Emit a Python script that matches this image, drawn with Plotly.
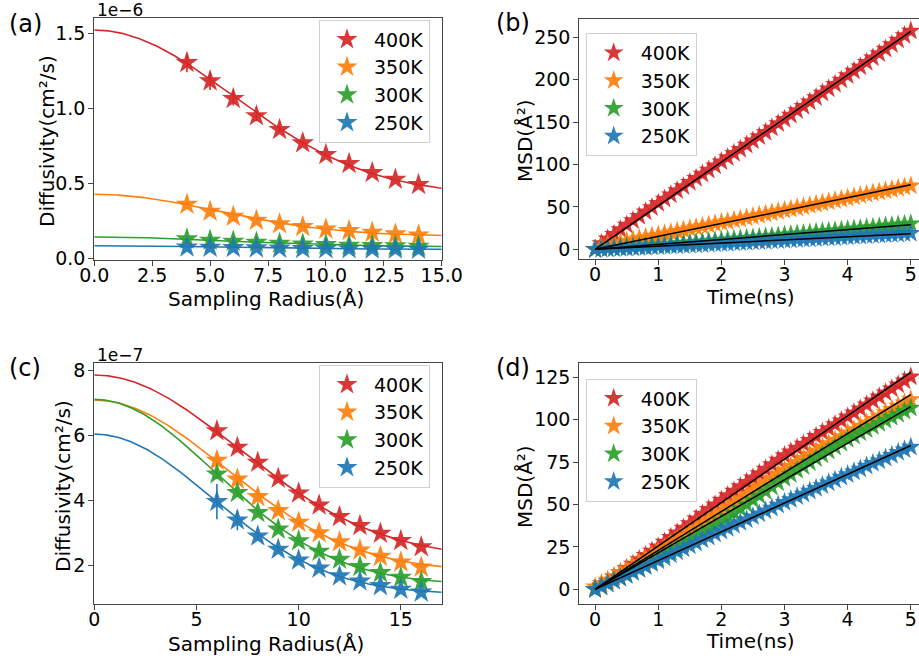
import numpy as np
import plotly.graph_objects as go

# ---------------- data ----------------
temps = ["400K", "350K", "300K", "250K"]
colors = ["#d62728", "#ff7f0e", "#2ca02c", "#1f77b4"]

# (a) diffusivity vs sampling radius, units of 1e-6 cm^2/s
radius_a = [4, 5, 6, 7, 8, 9, 10, 11, 12, 13, 14]
diff_a_400 = [1.302, 1.180, 1.062, 0.947, 0.856, 0.767, 0.689, 0.629, 0.569, 0.524, 0.489]
diff_a_350 = [0.358, 0.311, 0.278, 0.251, 0.227, 0.209, 0.193, 0.182, 0.171, 0.160, 0.153]
diff_a_300 = [0.127, 0.118, 0.111, 0.104, 0.098, 0.093, 0.089, 0.084, 0.082, 0.080, 0.078]
diff_a_250 = [0.073, 0.071, 0.069, 0.067, 0.065, 0.063, 0.062, 0.061, 0.060, 0.059, 0.058]
err_a_400 = [0.063, 0.060, 0.045, 0.035, 0.020, 0.012, 0.010, 0.008, 0.008, 0.006, 0.006]
err_a_350 = [0.012, 0.010, 0.008, 0.006, 0.005, 0.004, 0.004, 0.003, 0.003, 0.003, 0.003]
err_a_300 = [0.006, 0.005, 0.004, 0.003, 0.003, 0.002, 0.002, 0.002, 0.002, 0.002, 0.002]
err_a_250 = [0.004, 0.003, 0.003, 0.002, 0.002, 0.002, 0.002, 0.002, 0.002, 0.002, 0.002]
# Gaussian model D(r) = base + amp * exp(-(r/width)^2)
fit_a_400 = [0.420, 1.100, 8.40]
fit_a_350 = [0.145, 0.280, 7.50]
fit_a_300 = [0.075, 0.065, 8.00]
fit_a_250 = [0.058, 0.024, 8.00]

# (c) diffusivity vs sampling radius, units of 1e-7 cm^2/s
radius_c = [6, 7, 8, 9, 10, 11, 12, 13, 14, 15, 16]
diff_c_400 = [6.13, 5.62, 5.16, 4.67, 4.21, 3.84, 3.49, 3.21, 2.97, 2.75, 2.56]
diff_c_350 = [5.22, 4.64, 4.10, 3.67, 3.31, 2.99, 2.71, 2.46, 2.26, 2.09, 1.93]
diff_c_300 = [4.80, 4.23, 3.61, 3.10, 2.74, 2.42, 2.17, 1.95, 1.76, 1.62, 1.49]
diff_c_250 = [3.95, 3.38, 2.89, 2.48, 2.15, 1.90, 1.66, 1.50, 1.36, 1.25, 1.16]
err_c_400 = [0.10, 0.08, 0.06, 0.05, 0.04, 0.04, 0.03, 0.03, 0.03, 0.02, 0.02]
err_c_350 = [0.12, 0.09, 0.07, 0.05, 0.04, 0.04, 0.03, 0.03, 0.03, 0.02, 0.02]
err_c_300 = [0.15, 0.12, 0.08, 0.06, 0.05, 0.04, 0.03, 0.03, 0.03, 0.02, 0.02]
err_c_250 = [0.54, 0.31, 0.12, 0.08, 0.06, 0.05, 0.04, 0.03, 0.03, 0.03, 0.02]
fit_c_400 = [2.20, 5.65, 9.85]
fit_c_350 = [1.80, 5.28, 9.00]
fit_c_300 = [1.40, 5.70, 8.35]
fit_c_250 = [1.10, 4.93, 8.10]

# (b), (d) mean squared displacement vs time
time_ns = [round(0.1 * i, 1) for i in range(51)]
msd_b_400 = [0.0, 6.8, 12.5, 17.9, 23.4, 28.6, 33.9, 39.0, 44.2, 49.3,
             54.4, 59.4, 64.3, 69.3, 74.1, 79.0, 83.9, 88.8, 93.6, 98.5,
             103.4, 108.3, 113.2, 118.1, 123.0, 128.0, 133.1, 138.1, 143.2, 148.3,
             153.4, 158.5, 163.7, 168.8, 174.0, 179.1, 184.3, 189.4, 194.6, 199.8,
             205.0, 210.2, 215.4, 220.6, 225.8, 231.0, 236.3, 241.5, 246.8, 252.1,
             257.6]
msd_b_350 = [0.0, 2.9, 5.0, 6.8, 8.4, 9.9, 11.4, 12.8, 14.2, 15.6,
             17.0, 18.4, 19.9, 21.3, 22.8, 24.2, 25.7, 27.1, 28.6, 30.0,
             31.5, 32.9, 34.4, 35.8, 37.3, 38.7, 40.2, 41.6, 43.1, 44.5,
             46.0, 47.4, 48.9, 50.3, 51.8, 53.2, 54.7, 56.1, 57.6, 59.0,
             60.5, 61.9, 63.4, 64.8, 66.3, 67.7, 69.2, 70.6, 72.1, 73.5,
             75.0]
msd_b_300 = [0.0, 0.5, 1.0, 1.5, 2.0, 2.5, 3.0, 3.5, 4.0, 4.5,
             5.0, 5.6, 6.1, 6.7, 7.2, 7.8, 8.4, 8.9, 9.5, 10.1,
             10.7, 11.3, 11.9, 12.5, 13.1, 13.7, 14.3, 14.9, 15.5, 16.1,
             16.8, 17.4, 18.0, 18.7, 19.3, 20.0, 20.6, 21.3, 21.9, 22.6,
             23.3, 23.9, 24.6, 25.3, 26.0, 26.7, 27.4, 28.1, 28.8, 29.5,
             30.2]
msd_b_250 = [0.0, 0.3, 0.6, 0.9, 1.2, 1.5, 1.9, 2.2, 2.5, 2.9,
             3.2, 3.6, 3.9, 4.3, 4.6, 5.0, 5.4, 5.7, 6.1, 6.5,
             6.9, 7.2, 7.6, 8.0, 8.4, 8.8, 9.2, 9.6, 10.0, 10.4,
             10.8, 11.2, 11.6, 12.0, 12.4, 12.8, 13.2, 13.6, 14.0, 14.4,
             14.9, 15.3, 15.7, 16.1, 16.5, 16.9, 17.3, 17.7, 18.1, 18.5,
             18.9]
msd_d_400 = [0.0, 2.3, 4.8, 7.3, 9.9, 12.5, 15.0, 17.6, 20.1, 22.6,
             25.2, 27.9, 30.7, 33.4, 36.2, 38.9, 41.7, 44.4, 47.2, 49.9,
             52.7, 55.3, 58.0, 60.6, 63.2, 65.8, 68.4, 71.0, 73.6, 76.3,
             78.9, 81.2, 83.4, 85.7, 88.0, 90.3, 92.6, 94.9, 97.2, 99.5,
             101.8, 104.2, 106.5, 108.9, 111.2, 113.6, 116.0, 118.3, 120.7, 123.0,
             125.4]
msd_d_350 = [1.5, 3.6, 5.6, 7.6, 9.6, 11.7, 13.8, 15.9, 18.0, 20.1,
             22.3, 24.6, 26.9, 29.3, 31.7, 34.1, 36.5, 38.9, 41.3, 43.8,
             46.3, 48.7, 51.1, 53.6, 56.0, 58.4, 60.8, 63.2, 65.6, 68.0,
             70.4, 72.7, 75.0, 77.3, 79.5, 81.7, 83.9, 86.0, 88.1, 90.2,
             92.3, 94.3, 96.3, 98.3, 100.3, 102.3, 104.3, 106.2, 108.2, 110.1,
             112.0]
msd_d_300 = [0.0, 1.6, 3.2, 4.9, 6.6, 8.3, 10.2, 12.0, 14.0, 16.0,
             18.0, 20.1, 22.2, 24.3, 26.5, 28.7, 30.9, 33.1, 35.4, 37.7,
             40.0, 42.5, 45.0, 47.5, 50.1, 52.7, 55.2, 57.8, 60.3, 62.9,
             65.5, 67.8, 70.2, 72.5, 74.8, 77.1, 79.3, 81.6, 83.9, 86.2,
             88.5, 90.4, 92.3, 94.2, 96.1, 97.9, 99.7, 101.5, 103.3, 105.1,
             107.0]
msd_d_250 = [0.0, 1.6, 3.3, 5.0, 6.7, 8.4, 10.1, 11.8, 13.5, 15.2,
             16.9, 18.7, 20.4, 22.2, 23.9, 25.7, 27.4, 29.2, 30.9, 32.7,
             34.4, 36.1, 37.8, 39.5, 41.2, 42.9, 44.6, 46.3, 48.0, 49.7,
             51.4, 53.0, 54.7, 56.3, 58.0, 59.6, 61.2, 62.9, 64.5, 66.2,
             67.8, 69.4, 71.0, 72.7, 74.3, 75.9, 77.5, 79.1, 80.8, 82.4,
             84.0]

# ---------------- figure ----------------
W, H = 919, 662
FONT = "DejaVu Sans"
AX_COLOR = "#444444"

fig = go.Figure()


def px_x(p):
    return p / W


def px_y(p):
    return 1 - p / H


# panel boxes in pixels: (left, right, top, bottom)
boxes = {
    "a": (94.3, 441.7, 18.0, 260.0),
    "b": (579.3, 919.0, 19.0, 259.3),
    "c": (94.3, 441.7, 363.3, 604.3),
    "d": (579.3, 919.0, 363.3, 604.3),
}
axis_ids = {"a": ("x", "y"), "b": ("x2", "y2"), "c": ("x3", "y3"), "d": ("x4", "y4")}
legend_ids = {"a": "legend", "b": "legend2", "c": "legend3", "d": "legend4"}


def gauss_model(r, p):
    base, amp, width = p
    return base + amp * np.exp(-(np.asarray(r) / width) ** 2)


def add_radius_panel(key, radius, series, errors, fits, r_max):
    xa, ya = axis_ids[key]
    r_fine = np.linspace(0, r_max, 300)
    for name, col, p in zip(temps, colors, fits):
        fig.add_trace(go.Scatter(
            x=r_fine, y=gauss_model(r_fine, p), mode="lines",
            line=dict(color=col, width=1.6), showlegend=False,
            hoverinfo="skip", xaxis=xa, yaxis=ya))
    for name, col, vals, err in zip(temps, colors, series, errors):
        fig.add_trace(go.Scatter(
            x=radius, y=vals, mode="markers", name=name,
            marker=dict(symbol="star", size=17, color=col, opacity=0.92,
                        line=dict(width=0)),
            error_y=dict(type="data", array=err, color=col, thickness=1.6, width=0),
            legend=legend_ids[key], xaxis=xa, yaxis=ya))


def add_msd_panel(key, series):
    xa, ya = axis_ids[key]
    t = np.asarray(time_ns)
    for name, col, vals in zip(temps, colors, series):
        fig.add_trace(go.Scatter(
            x=time_ns, y=vals, mode="markers", name=name,
            marker=dict(symbol="star", size=15, color=col, opacity=0.92,
                        line=dict(width=0)),
            legend=legend_ids[key], xaxis=xa, yaxis=ya))
    for vals in series:
        v = np.asarray(vals)
        slope = float(np.sum(t * v) / np.sum(t * t))  # MSD = 6 D t, through origin
        fig.add_trace(go.Scatter(
            x=[0, 5], y=[0, 5 * slope], mode="lines",
            line=dict(color="black", width=1.5), showlegend=False,
            hoverinfo="skip", xaxis=xa, yaxis=ya))


add_radius_panel("a", radius_a,
                 [diff_a_400, diff_a_350, diff_a_300, diff_a_250],
                 [err_a_400, err_a_350, err_a_300, err_a_250],
                 [fit_a_400, fit_a_350, fit_a_300, fit_a_250], 15)
add_msd_panel("b", [msd_b_400, msd_b_350, msd_b_300, msd_b_250])
add_radius_panel("c", radius_c,
                 [diff_c_400, diff_c_350, diff_c_300, diff_c_250],
                 [err_c_400, err_c_350, err_c_300, err_c_250],
                 [fit_c_400, fit_c_350, fit_c_300, fit_c_250], 17)
add_msd_panel("d", [msd_d_400, msd_d_350, msd_d_300, msd_d_250])

tick_font = dict(family=FONT, size=19, color="black")
TITLE_SIZE = 20


def axis_common():
    return dict(showline=True, linecolor=AX_COLOR, linewidth=1.2,
                ticks="outside", ticklen=5, tickwidth=1.2, tickcolor=AX_COLOR,
                showgrid=False, zeroline=False, tickfont=tick_font,
                automargin=False)


layout = dict(
    width=W, height=H, margin=dict(l=0, r=0, t=0, b=0, autoexpand=False),
    paper_bgcolor="white", plot_bgcolor="white",
    font=dict(family=FONT, color="black"),
)

x_specs = {
    "a": dict(range=[0, 15], tick0=0, dtick=2.5, tickformat=".1f", mirror=True),
    "b": dict(range=[-0.25, 5.13], tick0=0, dtick=1, mirror=True),
    "c": dict(range=[0, 17], tick0=0, dtick=5, mirror=True),
    "d": dict(range=[-0.25, 5.13], tick0=0, dtick=1, mirror=True),
}
y_specs = {
    "a": dict(range=[-0.013, 1.6], tick0=0, dtick=0.5, tickformat=".1f", mirror=True),
    "b": dict(range=[-11.8, 271.6], tick0=0, dtick=50, mirror=False),
    "c": dict(range=[0.79, 8.21], tick0=0, dtick=2, mirror=True),
    "d": dict(range=[-8.8, 133.3], tick0=0, dtick=25, mirror=False),
}

for i, key in enumerate(["a", "b", "c", "d"]):
    l, r, t, b = boxes[key]
    suffix = "" if i == 0 else str(i + 1)
    xa = axis_common()
    xa.update(x_specs[key])
    xa.update(domain=[px_x(l), min(px_x(r), 1.0)], anchor="y" + suffix,
              ticklabelstandoff=-7)
    ya = axis_common()
    ya.update(y_specs[key])
    ya.update(domain=[px_y(b), px_y(t)], anchor="x" + suffix, ticklabelstandoff=-1)
    layout["xaxis" + suffix] = xa
    layout["yaxis" + suffix] = ya

legend_pos = {"a": (319, 19.5), "b": (585.7, 33.0), "c": (319, 364.5), "d": (585.7, 378.5)}
for key, (lx, ly) in legend_pos.items():
    layout[legend_ids[key]] = dict(
        x=px_x(lx), y=px_y(ly), xanchor="left", yanchor="top",
        bgcolor="rgba(255,255,255,0.8)", bordercolor="#d0d0d0", borderwidth=1,
        font=dict(family=FONT, size=19, color="black"),
        itemwidth=44, tracegroupgap=0, traceorder="normal")

fig.update_layout(**layout)

# axis titles
x_titles = [("Sampling Radius(Å)", 266, 299), ("Time(ns)", 750, 297),
            ("Sampling Radius(Å)", 266, 644), ("Time(ns)", 750, 641)]
for text, cx, cy in x_titles:
    fig.add_annotation(text=text, x=px_x(cx), y=px_y(cy), xref="paper", yref="paper",
                       showarrow=False, xanchor="center", yanchor="middle",
                       font=dict(family=FONT, size=TITLE_SIZE, color="black"))
y_titles = [("Diffusivity(cm²/s)", 47, 141), ("MSD(Å²)", 525, 141),
            ("Diffusivity(cm²/s)", 63, 486), ("MSD(Å²)", 525, 487)]
for text, cx, cy in y_titles:
    fig.add_annotation(text=text, x=px_x(cx), y=px_y(cy), xref="paper", yref="paper",
                       showarrow=False, xanchor="center", yanchor="middle", textangle=-90,
                       font=dict(family=FONT, size=TITLE_SIZE, color="black"))

# panel letters and exponent labels
for label, (lx, ly) in {"(a)": (25, 24), "(b)": (513, 23), "(c)": (25, 368), "(d)": (513, 368)}.items():
    fig.add_annotation(text=label, x=px_x(lx), y=px_y(ly), xref="paper", yref="paper",
                       showarrow=False, xanchor="center", yanchor="middle",
                       font=dict(family=FONT, size=24, color="black"))
for label, (lx, ly) in {"1e−6": (95, 10), "1e−7": (95, 355)}.items():
    fig.add_annotation(text=label, x=px_x(lx), y=px_y(ly), xref="paper", yref="paper",
                       showarrow=False, xanchor="left", yanchor="middle",
                       font=dict(family=FONT, size=17, color="black"))

fig.write_html("out.html")
